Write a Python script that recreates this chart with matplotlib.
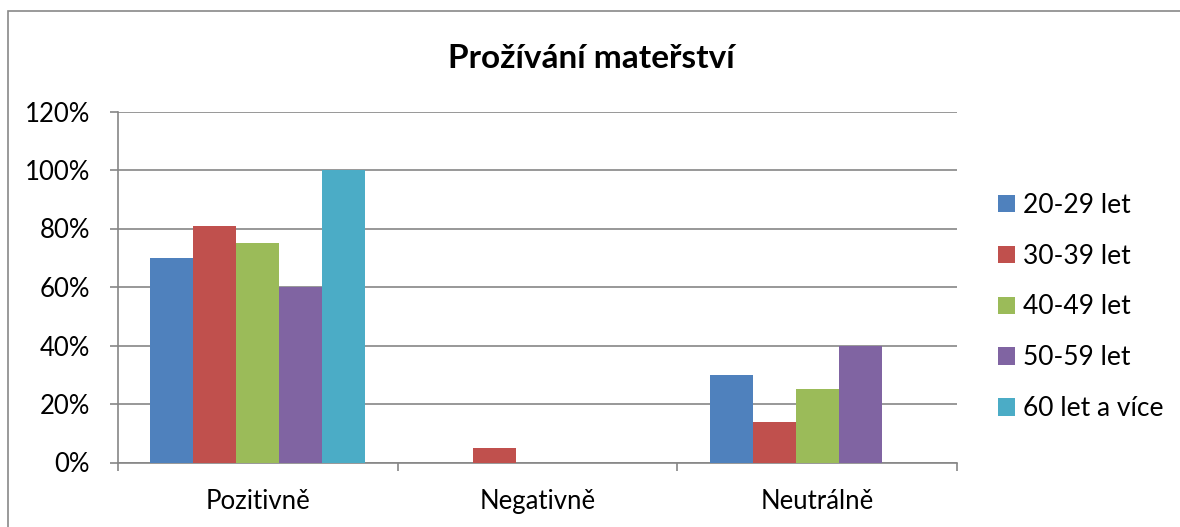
import numpy as np
import matplotlib
matplotlib.use('Agg')
import matplotlib.pyplot as plt
from matplotlib.patches import Rectangle

plt.rcParams['font.family'] = ['Lato', 'DejaVu Sans']

categories = ['Pozitivně', 'Negativně', 'Neutrálně']
series_names = ['20-29 let', '30-39 let', '40-49 let', '50-59 let', '60 let a více']
vals_20_29 = [70, 0, 30]
vals_30_39 = [81, 5, 14]
vals_40_49 = [75, 0, 25]
vals_50_59 = [60, 0, 40]
vals_60_plus = [100, 0, 0]
colors = ['#4F81BD', '#C0504D', '#9BBB59', '#8064A2', '#4BACC6']
y_ticks = [0, 20, 40, 60, 80, 100, 120]

all_vals = [vals_20_29, vals_30_39, vals_40_49, vals_50_59, vals_60_plus]

fig = plt.figure(figsize=(11.8, 5.27), dpi=100)
ax = fig.add_axes([118/1180, 1 - 462.5/527, (957-118)/1180, (462.5-111.5)/527])

grid_col = '#868686'
x = np.arange(len(categories))
w = 1 / 6.5
for i, (name, vals) in enumerate(zip(series_names, all_vals)):
    ax.bar(x + (i - 2) * w, vals, width=w, color=colors[i], label=name, zorder=3)

ax.set_xlim(-0.5, 2.5)
ax.set_ylim(0, 120)
ax.set_yticks(y_ticks)
ax.set_yticklabels(['%d%%' % t for t in y_ticks], fontsize=18.5)
ax.yaxis.grid(True, color=grid_col, lw=1.2, zorder=0)
ax.set_xticks(x)
ax.set_xticklabels(categories, fontsize=18.5)
ax.set_xticks([-0.5, 0.5, 1.5, 2.5], minor=True)
ax.tick_params(axis='x', which='major', length=0, pad=19)
ax.tick_params(axis='x', which='minor', length=6, width=1.2, color=grid_col)
ax.tick_params(axis='y', length=6, width=1.2, color=grid_col, pad=14)
for s in ['top', 'right']:
    ax.spines[s].set_visible(False)
for s in ['left', 'bottom']:
    ax.spines[s].set_color(grid_col)
    ax.spines[s].set_linewidth(1.2)

fig.text(591/1180, 1 - 58/527, 'Prožívání mateřství', fontsize=24, fontweight='bold',
         ha='center', va='center')

fig.legend(loc='center left', bbox_to_anchor=(998/1180, 1 - 307/527), frameon=False,
           fontsize=19, handlelength=0.64, handleheight=0.64, labelspacing=0.98,
           handletextpad=0.3, borderpad=0, borderaxespad=0)

fig.patches.append(Rectangle((8/1180, -0.05), 1.1, 1.05 - 11/527, transform=fig.transFigure,
                             fill=False, edgecolor='#898989', lw=1.2, figure=fig))

fig.savefig('out.png', dpi=100)
